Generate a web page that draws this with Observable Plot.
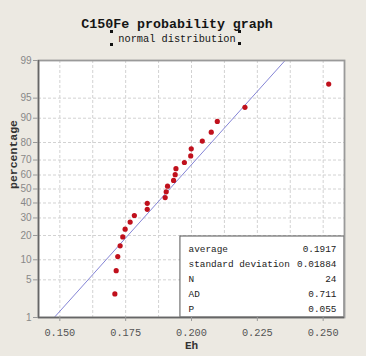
<!DOCTYPE html>
<html>
<head>
<meta charset="utf-8">
<script src="https://cdn.jsdelivr.net/npm/d3@7"></script>
<script src="https://cdn.jsdelivr.net/npm/@observablehq/plot@0.6"></script>
<style>
html,body{margin:0;padding:0;background:#ece9e2;}
#wrap{position:relative;width:366px;height:356px;overflow:hidden;background:#ece9e2;}
#chart{position:absolute;left:0;top:0;}
.t{position:absolute;left:0;width:354px;text-align:center;font-family:"Liberation Mono",monospace;color:#151515;white-space:pre;}
#title{top:18px;font-size:13.3px;line-height:13px;font-weight:bold;}
#subtitle{top:34px;font-size:10.3px;line-height:10px;}
.h{position:absolute;width:3px;height:3px;background:#111;}
</style>
</head>
<body>
<div id="wrap">
  <div id="chart"></div>
  <div id="title" class="t"></div>
  <div id="subtitle" class="t"></div>
  <div class="h" style="left:110px;top:30px"></div>
  <div class="h" style="left:238px;top:30px"></div>
  <div class="h" style="left:110px;top:43px"></div>
  <div class="h" style="left:238px;top:42px"></div>
</div>
<script>
// ---- data ----
const titleText = "C150Fe probability graph";
const subtitleText = "normal distribution";
const xLabel = "Eh";
const yLabel = "percentage";
const ehValues = [0.1709,0.1714,0.1720,0.1729,0.1739,0.1748,0.1767,0.1783,0.1832,0.1832,0.1900,0.1904,
                  0.1909,0.1932,0.1938,0.1941,0.1973,0.1997,0.1999,0.2041,0.2075,0.2098,0.2203,0.2521];
const xTicks = [0.150,0.175,0.200,0.225,0.250];
const xGrid = [0.150,0.1625,0.175,0.1875,0.200,0.2125,0.225,0.2375,0.250];
const yTickPercents = [1,5,10,20,30,40,50,60,70,80,90,95,99];
const statLabels = ["average","standard deviation","N","AD","P"];
const statValues = ["0.1917","0.01884","24","0.711","0.055"];
const fitMean = 0.1917;
const fitSd = 0.01884;

document.getElementById("title").textContent = titleText;
document.getElementById("subtitle").textContent = subtitleText;

// inverse normal CDF (Acklam)
function probit(p){
  const a=[-3.969683028665376e+01,2.209460984245205e+02,-2.759285104469687e+02,1.383577518672690e+02,-3.066479806614716e+01,2.506628277459239e+00];
  const b=[-5.447609879822406e+01,1.615858368580409e+02,-1.556989798598866e+02,6.680131188771972e+01,-1.328068155288572e+01];
  const c=[-7.784894002430293e-03,-3.223964580411365e-01,-2.400758277161838e+00,-2.549732539343734e+00,4.374664141464968e+00,2.938163982698783e+00];
  const d=[7.784695709041462e-03,3.224671290700398e-01,2.445134137142996e+00,3.754408661907416e+00];
  const pl=0.02425, ph=1-pl; let q,r;
  if(p<pl){q=Math.sqrt(-2*Math.log(p));return (((((c[0]*q+c[1])*q+c[2])*q+c[3])*q+c[4])*q+c[5])/((((d[0]*q+d[1])*q+d[2])*q+d[3])*q+1);}
  if(p<=ph){q=p-0.5;r=q*q;return (((((a[0]*r+a[1])*r+a[2])*r+a[3])*r+a[4])*r+a[5])*q/(((((b[0]*r+b[1])*r+b[2])*r+b[3])*r+b[4])*r+1);}
  q=Math.sqrt(-2*Math.log(1-p));return -(((((c[0]*q+c[1])*q+c[2])*q+c[3])*q+c[4])*q+c[5])/((((d[0]*q+d[1])*q+d[2])*q+d[3])*q+1);
}

const n = ehValues.length;
const sorted = ehValues.slice().sort((a,b)=>a-b);
const points = sorted.map((v,i)=>({x:v, z:probit((i+1-0.3)/(n+0.4))}));
const yDomain = [probit(0.01), probit(0.99)];
const xDomain = [0.1419, 0.2581];
const fitLine = yDomain.map(z=>({x:fitMean+fitSd*z, z}));
const zTicks = yTickPercents.map(p=>probit(p/100));
const boxLeft = 0.1958, boxTopZ = -0.86;

const mono = "Liberation Mono, monospace";
const chart = Plot.plot({
  width:366, height:356,
  marginTop:60, marginRight:22, marginBottom:39, marginLeft:38,
  style:{background:"transparent", overflow:"visible"},
  x:{domain:xDomain},
  y:{domain:yDomain},
  marks:[
    Plot.frame({fill:"white", stroke:"none"}),
    Plot.gridX(xGrid, {stroke:"#d2d2d2", strokeOpacity:1, strokeDasharray:"3,2"}),
    Plot.gridY(zTicks, {stroke:"#d2d2d2", strokeOpacity:1, strokeDasharray:"3,2"}),
    Plot.line(fitLine, {x:"x", y:"z", stroke:"#8585d6", strokeWidth:1}),
    Plot.dot(points, {x:"x", y:"z", r:2.6, fill:"#c0101c", stroke:"none"}),
    Plot.rect([0], {x1:boxLeft, x2:xDomain[1], y1:yDomain[0], y2:boxTopZ, fill:"white", stroke:"#555", strokeWidth:1}),
    Plot.text([statLabels.join("\n")], {frameAnchor:"bottom-right", textAnchor:"start", lineAnchor:"bottom",
      lineHeight:1.58, dx:-156, dy:-6, fontFamily:mono, fontSize:9.4, fill:"#222"}),
    Plot.text([statValues.join("\n")], {frameAnchor:"bottom-right", textAnchor:"end", lineAnchor:"bottom",
      lineHeight:1.58, dx:-8, dy:-6, fontFamily:mono, fontSize:9.4, fill:"#222"}),
    Plot.frame({stroke:"#9a9a9a", strokeWidth:1.8}),
    Plot.ruleX([xDomain[0]], {stroke:"#666", strokeWidth:1.5}),
    Plot.ruleY([yDomain[0]], {stroke:"#666", strokeWidth:1.5}),
    Plot.axisX(xTicks, {tickSize:4, tickPadding:7, tickFormat:d3.format(".3f"), label:null,
      fontFamily:mono, fontSize:10.3, fill:"#555", stroke:"#999"}),
    Plot.axisY(zTicks, {tickSize:5, tickPadding:2, label:null,
      tickFormat:(d,i)=>String(yTickPercents[i]),
      fontFamily:"Liberation Sans, Arial, sans-serif", fontSize:10, fill:"#888", stroke:"#999"}),
    Plot.text([yLabel], {frameAnchor:"left", rotate:-90, dx:-25, fontFamily:mono, fontWeight:"bold", fontSize:11.5, fill:"#333"}),
    Plot.text([xLabel], {frameAnchor:"bottom", dy:31, fontFamily:mono, fontWeight:"bold", fontSize:11, fill:"#333"})
  ]
});
document.getElementById("chart").appendChild(chart);
</script>
</body>
</html>
